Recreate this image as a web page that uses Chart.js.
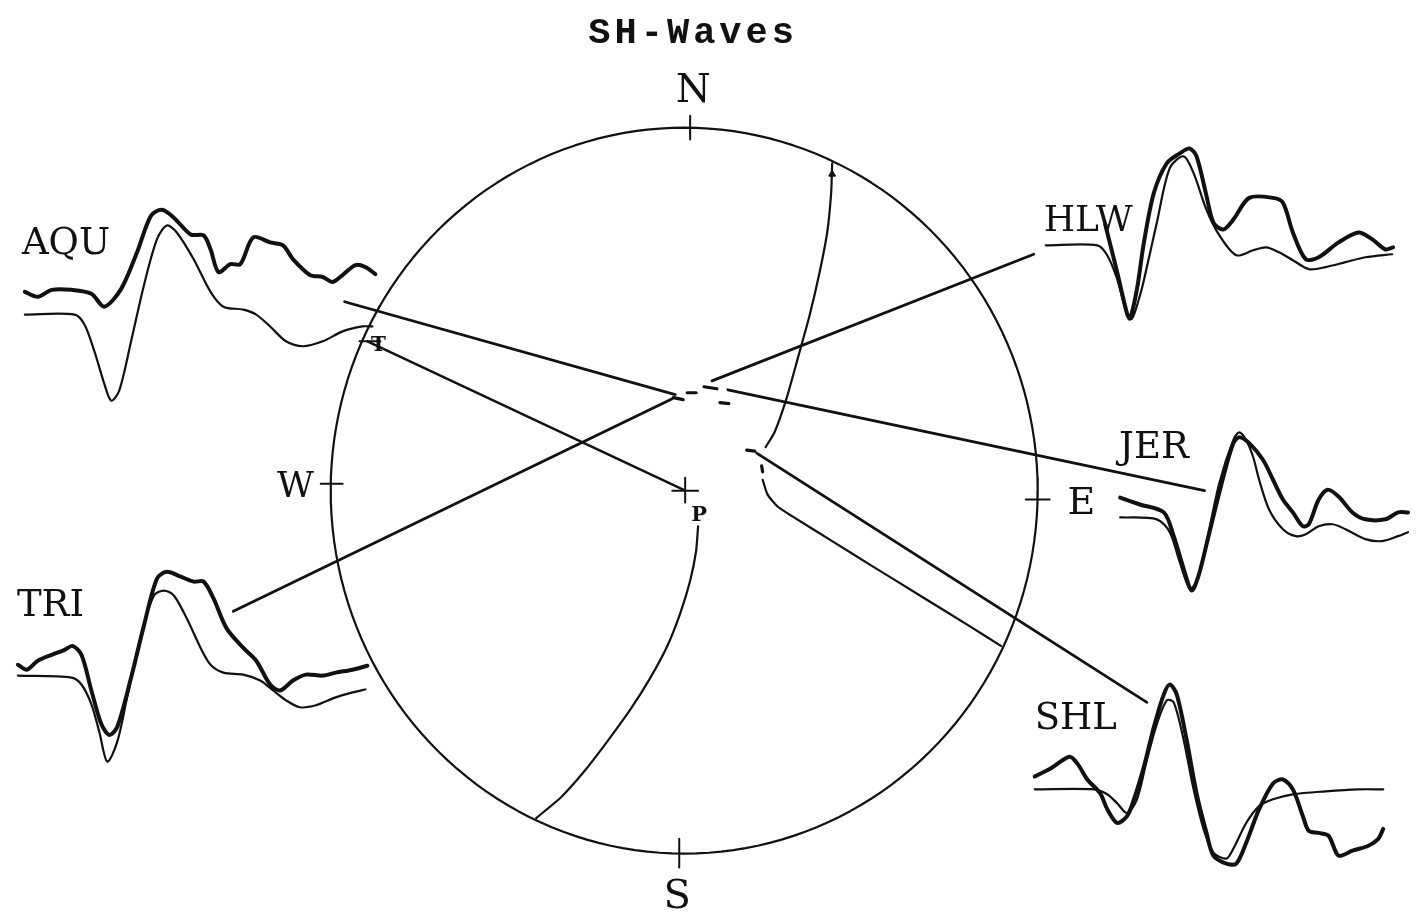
<!DOCTYPE html>
<html lang="en">
<head>
<meta charset="UTF-8">
<title>SH-Waves</title>
<script src="https://cdn.jsdelivr.net/npm/chart.js"></script>
<style>
    body { margin: 0; background: #fff; }
    .chart-wrap { width: 1423px; height: 917px; }
</style>
</head>
<body>
<div class="chart-wrap"><canvas id="shChart"></canvas></div>
<script>
// Station codes
const stations = ['AQU', 'TRI', 'HLW', 'JER', 'SHL'];

// SH traces as [time, amplitude] samples; observed = heavy, synthetic = light
const aquObserved = [[0,23],[13,18],[27,25],[47,25],[67,21],[80,8],[97,26],[113,63],[127,100],[138,106],[150,98],[167,81],[180,80],[187,66],[195,43],[207,51],[217,51],[230,78],[247,73],[260,70],[270,56],[287,40],[300,38],[310,33],[320,40],[333,50],[343,48],[353,41]];
const aquSynthetic = [[0,0],[50,0],[60,-10],[70,-37],[80,-70],[87,-87],[95,-77],[107,-27],[120,30],[133,76],[143,90],[153,83],[170,56],[187,23],[200,8],[220,5],[233,0],[247,-12],[263,-27],[280,-32],[300,-27],[320,-17],[340,-12],[350,-12]];

const triObserved = [[0,11],[9,6],[20,15],[34,21],[47,26],[55,30],[64,21],[74,-15],[84,-49],[92,-60],[100,-52],[114,-2],[127,51],[140,98],[150,105],[164,100],[177,95],[187,95],[197,78],[210,48],[227,28],[240,15],[254,-9],[264,-15],[277,-5],[290,1],[307,0],[320,3],[337,6],[352,10]];
const triSynthetic = [[0,0],[54,-2],[64,-9],[74,-29],[82,-57],[90,-87],[100,-67],[110,-22],[124,41],[137,81],[147,86],[157,81],[170,58],[184,28],[194,11],[207,3],[227,1],[244,-5],[257,-15],[270,-25],[284,-32],[300,-30],[320,-22],[337,-17],[350,-14]];

const hlwObserved = [[60,21],[72,-27],[82,-69],[85,-74],[92,-44],[99,3],[109,53],[122,83],[135,93],[145,98],[152,90],[162,50],[169,23],[179,16],[189,26],[205,48],[229,48],[239,43],[249,13],[262,-14],[275,-12],[295,3],[315,13],[329,6],[342,-4],[350,-2]];
const hlwSynthetic = [[0,0],[52,0],[62,-10],[72,-34],[82,-70],[87,-74],[94,-54],[99,-35],[112,23],[125,78],[139,90],[149,73],[162,36],[175,10],[192,-10],[209,-5],[222,-2],[235,-7],[249,-15],[265,-24],[282,-22],[302,-17],[322,-12],[349,-9]];

const jerObserved = [[0,20],[20,13],[44,5],[54,-19],[64,-52],[72,-74],[79,-59],[90,-15],[104,41],[114,75],[120,81],[130,75],[144,58],[154,38],[164,18],[174,5],[184,-9],[190,-7],[200,18],[209,28],[220,21],[234,5],[247,-2],[267,-2],[280,5],[290,5]];
const jerSynthetic = [[0,0],[37,-2],[50,-15],[60,-45],[70,-72],[77,-65],[87,-25],[100,35],[114,78],[120,86],[127,78],[134,61],[140,38],[150,8],[164,-12],[177,-19],[187,-17],[200,-9],[214,-7],[227,-12],[247,-22],[264,-24],[280,-19],[290,-15]];

const shlObserved = [[0,13],[16,21],[35,33],[43,26],[53,10],[66,-4],[73,-20],[83,-34],[93,-27],[100,-10],[110,23],[120,63],[130,96],[136,106],[143,96],[153,50],[163,-4],[173,-44],[180,-67],[193,-75],[203,-75],[213,-54],[226,-20],[240,6],[250,10],[260,0],[270,-27],[276,-42],[286,-44],[296,-47],[306,-67],[320,-62],[336,-57],[346,-50],[351,-40]];
const shlSynthetic = [[0,0],[60,0],[73,-5],[83,-14],[93,-24],[103,-10],[113,30],[123,66],[133,90],[140,88],[150,50],[160,0],[170,-40],[180,-64],[193,-70],[200,-60],[213,-34],[226,-17],[240,-10],[260,-5],[293,-2],[326,0],[351,0]];

// Nodal planes on the projection
const nodalPlaneA = [[833,160],[832,190],[828,230],[820,272],[810,315],[799,355],[787,398],[775,432],[766,447]];
const nodalPlaneB = [[763,480],[768,495],[778,507],[793,517],[833,542],[873,567],[923,598],[973,629],[1003,648]];
const nodalPlaneC = [[698,527],[696,552],[690,582],[680,615],[667,648],[650,680],[630,712],[607,744],[584,774],[560,801],[535,822]];

// Station ray lines from projection point out to the trace
const rayLines = {
    AQU: [[675,394],[342,300]],
    TRI: [[672,398],[230,613]],
    HLW: [[712,380],[1036,252]],
    JER: [[728,389],[1208,491]],
    SHL: [[757,453],[1150,705]]
};
const tpAxis = [[365,340],[683,490]];
const centerDashes = [[[673,397],[683,399]], [[687,392],[696,392]], [[704,386],[717,388]], [[720,402],[729,403]], [[747,450],[755,451]], [[762,466],[763,472]]];

// ---- layout (positions and styles, kept apart from the values above) ----
const traceOrigin = { AQU: [20,313], TRI: [13,678], HLW: [1048,243], JER: [1123,518], SHL: [1037,793] };
const sphere = { cx: 684, cy: 491, rx: 356, ry: 367 };
const ticks = [[[690,112],[690,136]], [[679,843],[679,872]], [[1028,500],[1052,500]], [[318,484],[340,484]],
               [[672,491],[698,491]], [[685,478],[685,503]], [[357,340],[378,340]]];
const textItems = [
    { text: 'SH-Waves', x: 693, y: 38, align: 'center', font: 'bold 37px "Liberation Mono"', spacing: '4px' },
    { text: 'N', x: 693, y: 98, align: 'center', font: '40px "DejaVu Serif"' },
    { text: 'S', x: 677, y: 913, align: 'center', font: '40px "DejaVu Serif"' },
    { text: 'E', x: 1070, y: 515, align: 'left', font: '38px "DejaVu Serif"' },
    { text: 'W', x: 274, y: 497, align: 'left', font: '36px "DejaVu Serif"' },
    { text: 'AQU', x: 17, y: 252, align: 'left', font: '37px "DejaVu Serif"' },
    { text: 'TRI', x: 12, y: 618, align: 'left', font: '37px "DejaVu Serif"' },
    { text: 'HLW', x: 1046, y: 228, align: 'left', font: '36px "DejaVu Serif"' },
    { text: 'JER', x: 1122, y: 458, align: 'left', font: '37px "DejaVu Serif"' },
    { text: 'SHL', x: 1037, y: 732, align: 'left', font: '37px "DejaVu Serif"' },
    { text: 'T', x: 376, y: 350, align: 'center', font: 'bold 20px "DejaVu Serif"' },
    { text: 'P', x: 699, y: 522, align: 'center', font: 'bold 21px "DejaVu Serif"' }
];

const traces = {
    AQU: [aquObserved, aquSynthetic],
    TRI: [triObserved, triSynthetic],
    HLW: [hlwObserved, hlwSynthetic],
    JER: [jerObserved, jerSynthetic],
    SHL: [shlObserved, shlSynthetic]
};

function placeTrace(samples, origin) {
    return samples.map(([t, a]) => ({ x: origin[0] + t, y: origin[1] - a }));
}
function toPoints(list) {
    return list.map(([x, y]) => ({ x, y }));
}
function line(data, width, tension) {
    return { data, showLine: true, borderColor: '#111', borderWidth: width, pointRadius: 0,
             tension: tension, fill: false, borderCapStyle: 'round', borderJoinStyle: 'round' };
}

const datasets = [];

// focal sphere outline
const rim = [];
for (let i = 0; i <= 360; i += 2) {
    const a = i * Math.PI / 180;
    rim.push({ x: sphere.cx + sphere.rx * Math.cos(a), y: sphere.cy + sphere.ry * Math.sin(a) });
}
datasets.push(line(rim, 2.2, 0));

datasets.push(line(toPoints(nodalPlaneA), 2.2, 0.2));
datasets.push(line(toPoints(nodalPlaneB), 2.2, 0.2));
datasets.push(line(toPoints(nodalPlaneC), 2.2, 0.2));
datasets.push(line(toPoints(tpAxis), 2.4, 0));
ticks.forEach(t => datasets.push(line(toPoints(t), 2, 0)));
centerDashes.forEach(d => datasets.push(line(toPoints(d), 3.2, 0)));

stations.forEach(code => {
    datasets.push(line(toPoints(rayLines[code]), 2.8, 0));
    const [obs, syn] = traces[code];
    datasets.push(line(placeTrace(obs, traceOrigin[code]), 4, 0.3));
    datasets.push(line(placeTrace(syn, traceOrigin[code]), 2.2, 0.3));
});

// small arrowhead on the northern end of the first nodal plane
datasets.push({ data: [{ x: 833, y: 171 }], pointStyle: 'triangle', pointRadius: 4,
                backgroundColor: '#111', borderColor: '#111', showLine: false });

// lettering drawn on top of the marks
const lettering = {
    id: 'lettering',
    afterDatasetsDraw(chart) {
        const { ctx, scales } = chart;
        ctx.save();
        ctx.fillStyle = '#111';
        ctx.textBaseline = 'alphabetic';
        textItems.forEach(item => {
            ctx.font = item.font;
            ctx.textAlign = item.align;
            ctx.letterSpacing = item.spacing || '0px';
            ctx.fillText(item.text, scales.x.getPixelForValue(item.x), scales.y.getPixelForValue(item.y));
        });
        ctx.restore();
    }
};

new Chart(document.getElementById('shChart'), {
    type: 'scatter',
    data: { datasets },
    options: {
        responsive: true,
        maintainAspectRatio: false,
        animation: false,
        events: [],
        layout: { padding: 0 },
        scales: {
            x: { type: 'linear', min: 0, max: 1423, display: false },
            y: { type: 'linear', min: 0, max: 917, reverse: true, display: false }
        },
        plugins: { legend: { display: false }, tooltip: { enabled: false } }
    },
    plugins: [lettering]
});
</script>
</body>
</html>
